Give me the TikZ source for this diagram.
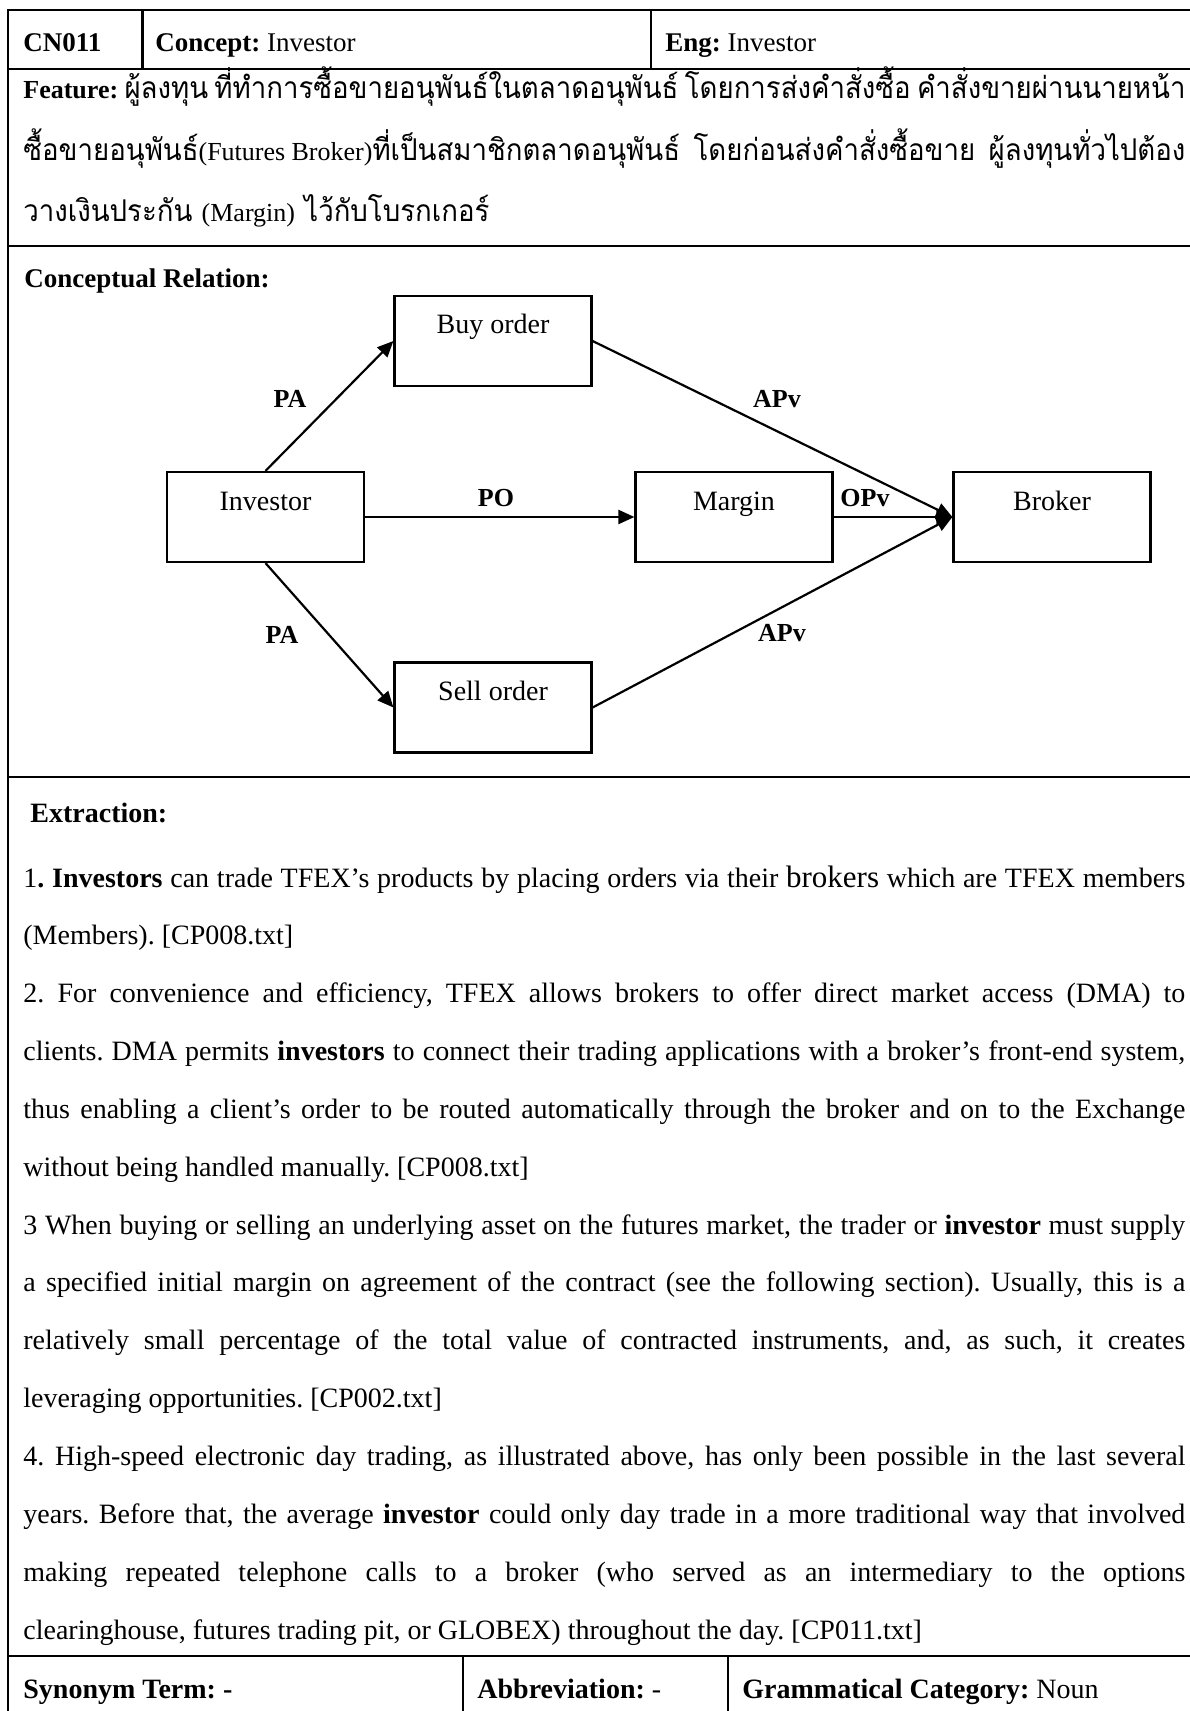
\documentclass[tikz,border=0pt]{standalone}
\usepackage{fontspec}
\setmainfont{Liberation Serif}
\newfontfamily\thaifont[Script=Thai, FakeStretch=0.92]{Loma}
\usetikzlibrary{arrows.meta}

% width of a full text line inside the table
\newlength\fullw
\setlength\fullw{581pt}
% a justified line: spaces stretch evenly to fill the width
\newcommand\jline[1]{\hbox to \fullw{\spaceskip=0.25em plus 1fil minus 0.08em\relax #1}}
% a Thai justified line with Latin pieces in the serif face
\newcommand\thjline[1]{\hbox to \fullw{\thaifont\fontsize{15pt}{17pt}\selectfont\spaceskip=0.25em plus 1fil minus 0.08em\relax #1}}
\newcommand\lat[1]{{\rmfamily\fontsize{13pt}{16pt}\selectfont #1}}

\begin{document}
\frenchspacing
\begin{tikzpicture}[x=0.5pt,y=-0.5pt,
  rule/.style={line width=1.4pt, line cap=rect},
  cbox/.style={draw, line width=1.1pt, minimum width=98.5pt, inner xsep=0pt, inner ysep=0pt,
    text height=19pt, text depth=26pt, font=\fontsize{14pt}{17pt}\selectfont},
  rel/.style={line width=1.1pt, -{Triangle[length=8pt,width=7pt]}},
  rlab/.style={inner sep=0pt, font=\fontsize{13pt}{16pt}\selectfont\bfseries},
  txt/.style={anchor=base west, inner sep=0pt, font=\fontsize{14pt}{17pt}\selectfont},
  head/.style={anchor=base west, inner sep=0pt, font=\fontsize{13.5pt}{16pt}\selectfont}]

\useasboundingbox (0,0) rectangle (1189,1711);

% table rules
\draw[rule] (8,10) -- (1195,10);
\draw[rule] (8,69) -- (1195,69);
\draw[rule] (8,246) -- (1195,246);
\draw[rule] (8,777) -- (1195,777);
\draw[rule] (8,1656) -- (1195,1656);
\draw[rule] (8,10) -- (8,1720);
\draw[rule] (142.7,10) -- (142.7,69);
\draw[rule] (651,10) -- (651,69);
\draw[rule] (463,1656) -- (463,1720);
\draw[rule] (728,1656) -- (728,1720);

% header row
\node[head] (cid) at (23,52) {\textbf{CN011}};
\node[head] (concept) at (155,52) {\textbf{Concept:} Investor};
\node[head] (eng) at (665,52) {\textbf{Eng:} Investor};

% feature description
\node[txt] (f1) at (23,99) {\thjline{\lat{\textbf{Feature:}} ผู้ลงทุน ที่ทำการซื้อขายอนุพันธ์ในตลาดอนุพันธ์ โดยการส่งคำสั่งซื้อ คำสั่งขายผ่านนายหน้า}};
\node[txt] (f2) at (23,160.5) {\thjline{ซื้อขายอนุพันธ์\lat{(Futures\hspace{3.2pt}Broker)}ที่เป็นสมาชิกตลาดอนุพันธ์ โดยก่อนส่งคำสั่งซื้อขาย ผู้ลงทุนทั่วไปต้อง}};
\node[txt] (f3) at (23,222) {\thaifont\fontsize{15pt}{17pt}\selectfont วางเงินประกัน \lat{(Margin)} ไว้กับโบรกเกอร์};

% conceptual relation
\node[head] (crel) at (24,288) {\textbf{Conceptual Relation:}};

\node[cbox] (buy) at (493,341) {Buy order};
\node[cbox] (inv) at (265.5,517) {Investor};
\node[cbox] (mar) at (734,517) {Margin};
\node[cbox] (bro) at (1052,517) {Broker};
\node[cbox] (sell) at (493,707.5) {Sell order};

\draw[rel] (inv.north) -- (buy.west);
\draw[rel] (inv.south) -- (sell.west);
\draw[rel] (inv.east) -- (mar.west);
\draw[rel] (mar.east) -- (bro.west);
\draw[rel] (buy.east) -- (bro.west);
\draw[rel] (sell.east) -- (bro.west);

\node[rlab] (pa1) at (290,399) {PA};
\node[rlab] (pa2) at (282,635) {PA};
\node[rlab] (po) at (496,498) {PO};
\node[rlab] (opv) at (865,498) {OPv};
\node[rlab] (apv1) at (777,399) {APv};
\node[rlab] (apv2) at (782,633) {APv};

% extraction
\node[txt] (ext) at (30,822) {\textbf{Extraction:}};
\node[txt] (e0) at (23,887) {\jline{1\textbf{. Investors} can trade TFEX’s products by placing orders via their {\fontsize{15.5pt}{17pt}\selectfont brokers} which are TFEX members}};
\node[txt] (e1) at (23,944.85) {(Members). [CP008.txt]};
\node[txt] (e2) at (23,1002.7) {\jline{2. For convenience and efficiency, TFEX allows brokers to offer direct market access (DMA) to}};
\node[txt] (e3) at (23,1060.55) {\jline{clients. DMA permits \textbf{investors} to connect their trading applications with a broker’s front-end system,}};
\node[txt] (e4) at (23,1118.4) {\jline{thus enabling a client’s order to be routed automatically through the broker and on to the Exchange}};
\node[txt] (e5) at (23,1176.25) {without being handled manually. [CP008.txt]};
\node[txt] (e6) at (23,1234.1) {\jline{3 When buying or selling an underlying asset on the futures market, the trader or \textbf{investor} must supply}};
\node[txt] (e7) at (23,1291.95) {\jline{a specified initial margin on agreement of the contract (see the following section). Usually, this is a}};
\node[txt] (e8) at (23,1349.8) {\jline{relatively small percentage of the total value of contracted instruments, and, as such, it creates}};
\node[txt] (e9) at (23,1407.65) {leveraging opportunities. [CP002.txt]};
\node[txt] (e10) at (23,1465.5) {\jline{4. High-speed electronic day trading, as illustrated above, has only been possible in the last several}};
\node[txt] (e11) at (23,1523.35) {\jline{years. Before that, the average \textbf{investor} could only day trade in a more traditional way that involved}};
\node[txt] (e12) at (23,1581.2) {\jline{making repeated telephone calls to a broker (who served as an intermediary to the options}};
\node[txt] (e13) at (23,1639.05) {clearinghouse, futures trading pit, or GLOBEX) throughout the day. [CP011.txt]};

% bottom row
\node[txt] (syn) at (23,1698) {\textbf{Synonym Term: -}};
\node[txt] (abbr) at (477,1698) {\textbf{Abbreviation:} -};
\node[txt] (gram) at (742,1698) {\textbf{Grammatical Category:} Noun};
\end{tikzpicture}
\end{document}
